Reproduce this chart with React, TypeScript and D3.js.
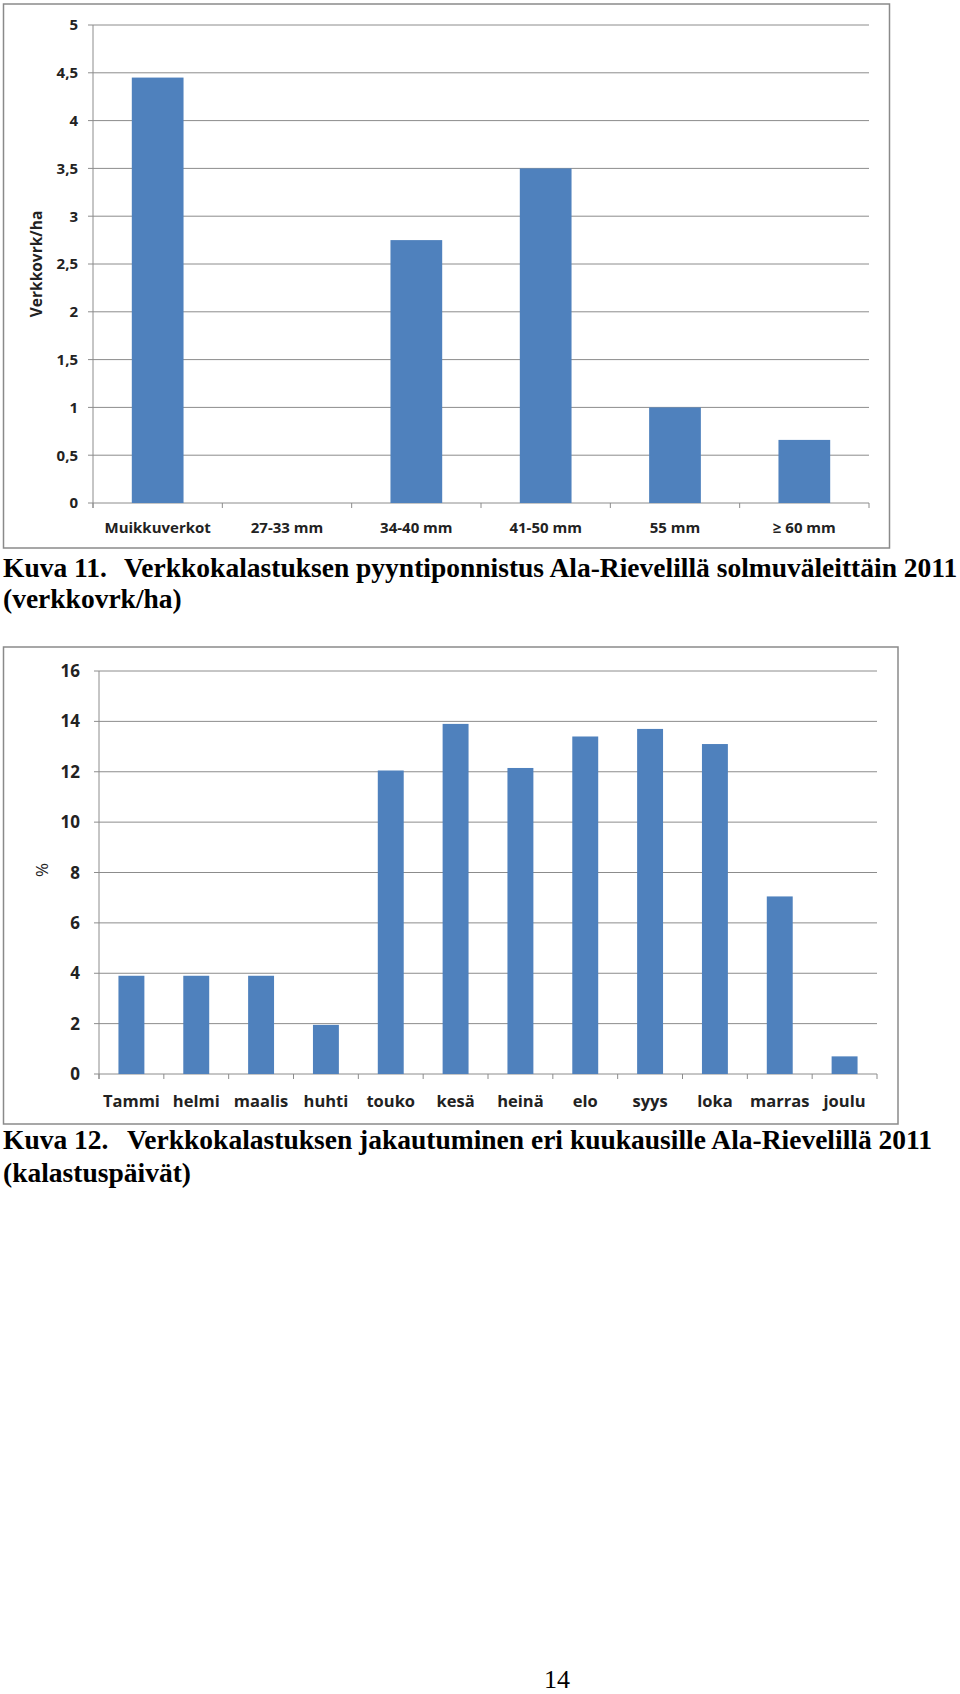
import React from "react";
import * as d3 from "d3";

const meshCategories = ["Muikkuverkot", "27-33 mm", "34-40 mm", "41-50 mm", "55 mm", "≥ 60 mm"];
const meshValues = [4.45, 0, 2.75, 3.5, 1.0, 0.66];
const meshTicks = [0, 0.5, 1, 1.5, 2, 2.5, 3, 3.5, 4, 4.5, 5];

const months = ["Tammi", "helmi", "maalis", "huhti", "touko", "kesä", "heinä", "elo", "syys", "loka", "marras", "joulu"];
const monthValues = [3.9, 3.9, 3.9, 1.95, 12.05, 13.9, 12.15, 13.4, 13.7, 13.1, 7.05, 0.7];
const monthTicks = [0, 2, 4, 6, 8, 10, 12, 14, 16];

const BAR = "#4F81BD";
const GRID = "#8c8c8c";
const FRAME = "#8a8a8a";
const SANS = "'Open Sans', Lato, sans-serif";
const SERIF = "'Liberation Serif', 'Times New Roman', serif";

const fmtComma = (v: number) => String(v).replace(".", ",");

type ChartProps = {
  cats: string[];
  vals: number[];
  ticks: number[];
  frame: { x: number; y: number; w: number; h: number };
  plot: { left: number; right: number; top: number; bottom: number };
  tickFont: number;
  catFont: number;
  catBaseline: number;
  tickLabelRight: number;
  fmt: (v: number) => string;
  yTitle: string;
  yTitleX: number;
  yTitleY: number;
  yTitleBold: boolean;
  yTitleSize: number;
};

function BarChart(p: ChartProps) {
  const x = d3
    .scaleBand<string>()
    .domain(p.cats)
    .range([p.plot.left, p.plot.right])
    .paddingInner(0)
    .paddingOuter(0);
  const y = d3
    .scaleLinear()
    .domain([0, p.ticks[p.ticks.length - 1]])
    .range([p.plot.bottom, p.plot.top]);
  const bw = x.bandwidth() * 0.4;
  const boundaries = p.cats.map((c) => x(c)!).concat([p.plot.right]);
  return (
    <g>
      <rect
        x={p.frame.x}
        y={p.frame.y}
        width={p.frame.w}
        height={p.frame.h}
        fill="#fff"
        stroke={FRAME}
        strokeWidth={1.5}
      />
      {p.ticks.map((t) => (
        <g key={"g" + t}>
          <line
            x1={p.plot.left - 5}
            x2={p.plot.right}
            y1={y(t)}
            y2={y(t)}
            stroke={GRID}
            strokeWidth={1}
          />
          <text
            x={p.tickLabelRight}
            y={y(t)}
            dy="0.36em"
            textAnchor="end"
            fontFamily={SANS}
            fontWeight="bold"
            fontSize={p.tickFont}
            fill="#222"
          >
            {p.fmt(t)}
          </text>
        </g>
      ))}
      <line x1={p.plot.left} x2={p.plot.left} y1={p.plot.top} y2={p.plot.bottom + 5} stroke={GRID} strokeWidth={1} />
      {boundaries.map((b, i) => (
        <line key={"b" + i} x1={b} x2={b} y1={p.plot.bottom} y2={p.plot.bottom + 5} stroke={GRID} strokeWidth={1} />
      ))}
      {p.cats.map((c, i) =>
        p.vals[i] > 0 ? (
          <rect
            key={"r" + c}
            x={x(c)! + (x.bandwidth() - bw) / 2}
            y={y(p.vals[i])}
            width={bw}
            height={y(0) - y(p.vals[i])}
            fill={BAR}
          />
        ) : null
      )}
      {p.cats.map((c) => (
        <text
          key={"t" + c}
          x={x(c)! + x.bandwidth() / 2}
          y={p.catBaseline}
          textAnchor="middle"
          fontFamily={SANS}
          fontWeight="bold"
          fontSize={p.catFont}
          fill="#222"
        >
          {c}
        </text>
      ))}
      <text
        transform={`translate(${p.yTitleX},${p.yTitleY}) rotate(-90)`}
        textAnchor="middle"
        dy="0.35em"
        fontFamily={SANS}
        fontWeight={p.yTitleBold ? "bold" : "normal"}
        fontSize={p.yTitleSize}
        fill="#222"
      >
        {p.yTitle}
      </text>
    </g>
  );
}

export default function App() {
  return (
    <svg
      width={960}
      height={1694}
      viewBox="0 0 960 1694"
      style={{ position: "absolute", left: 0, top: 0, background: "#fff" }}
    >
      <rect x={0} y={0} width={960} height={1694} fill="#fff" />
      <BarChart
        cats={meshCategories}
        vals={meshValues}
        ticks={meshTicks}
        frame={{ x: 3.5, y: 4, w: 886, h: 544 }}
        plot={{ left: 93, right: 869, top: 25, bottom: 503 }}
        tickFont={15}
        catFont={15}
        catBaseline={533}
        tickLabelRight={78}
        fmt={fmtComma}
        yTitle="Verkkovrk/ha"
        yTitleX={37}
        yTitleY={264}
        yTitleBold={true}
        yTitleSize={15.5}
      />
      <BarChart
        cats={months}
        vals={monthValues}
        ticks={monthTicks}
        frame={{ x: 3.5, y: 647, w: 894.5, h: 477 }}
        plot={{ left: 99, right: 877, top: 671, bottom: 1074 }}
        tickFont={17}
        catFont={16.5}
        catBaseline={1107}
        tickLabelRight={80}
        fmt={(v) => String(v)}
        yTitle="%"
        yTitleX={42}
        yTitleY={870}
        yTitleBold={false}
        yTitleSize={17}
      />
      <g fontFamily={SERIF} fontWeight="bold" fontSize={27.5} fill="#000">
        <text x={3} y={577}>Kuva 11.</text>
        <text x={124} y={577}>Verkkokalastuksen pyyntiponnistus Ala-Rievelillä solmuväleittäin 2011</text>
        <text x={3} y={608}>(verkkovrk/ha)</text>
        <text x={3} y={1149}>Kuva 12.</text>
        <text x={127} y={1149}>Verkkokalastuksen jakautuminen eri kuukausille Ala-Rievelillä 2011</text>
        <text x={3} y={1182}>(kalastuspäivät)</text>
      </g>
      <text x={557} y={1688} textAnchor="middle" fontFamily={SERIF} fontSize={26} fill="#000">
        14
      </text>
    </svg>
  );
}
